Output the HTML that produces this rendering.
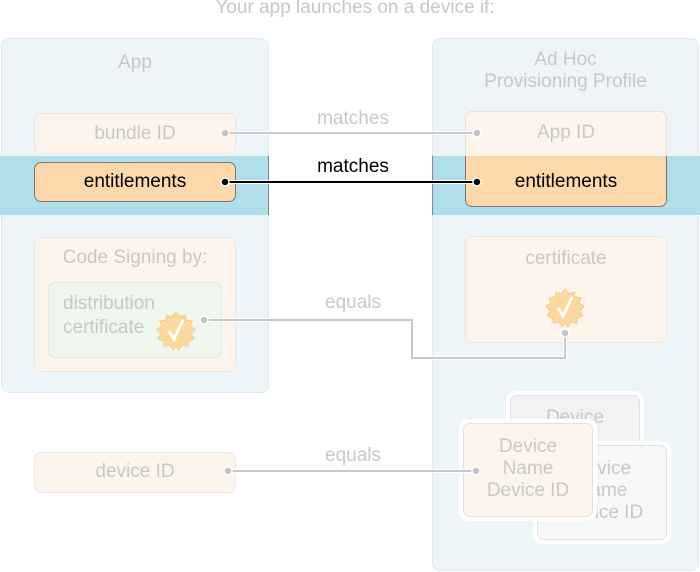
<!DOCTYPE html>
<html><head><meta charset="utf-8"><style>
body{margin:0;width:700px;height:572px;background:#fff;position:relative;overflow:hidden;font-family:"Liberation Sans",sans-serif;}
.a{position:absolute;box-sizing:border-box;}
.t{position:absolute;text-align:center;color:#c8c8c8;font-size:19px;line-height:21px;}
.panel{background:#edf5f8;border:1px solid #dfe9ee;border-radius:8px;}
.box{background:#fdf5ec;border:1px solid #ebe6e0;border-radius:7px;}
</style></head><body>
<div class="t" style="left:0;width:710px;top:-3px;">Your app launches on a device if:</div>

<div class="a panel" style="left:1px;top:38px;width:268px;height:355px;"></div>
<div class="a panel" style="left:432px;top:38px;width:267px;height:533px;"></div>

<div class="a" style="left:0;top:155px;width:269px;height:60px;background:#b0dfeb;border-top:1px solid #e8f4f8;border-right:1px solid #888;"></div>
<div class="a" style="left:432px;top:155px;width:268px;height:60px;background:#b0dfeb;border-left:1px solid #888;border-top:1px solid #e8f4f8;"></div>

<div class="t" style="left:1px;width:268px;top:52px;">App</div>
<div class="t" style="left:432px;width:267px;top:49px;line-height:22px;">Ad Hoc<br>Provisioning Profile</div>

<div class="a box" style="left:34px;top:113px;width:202px;height:41px;"></div>
<div class="t" style="left:34px;width:202px;top:123px;">bundle ID</div>
<div class="a" style="left:34px;top:162px;width:202px;height:40px;background:#fdd8ab;border:1px solid #777;border-radius:7px;"></div>
<div class="t" style="left:34px;width:202px;top:171px;color:#000;">entitlements</div>

<div class="a box" style="left:465px;top:111px;width:202px;height:96px;border-color:#e6e0da;"></div>
<div class="a" style="left:465px;top:156px;width:202px;height:51px;background:#fdd8ab;border:1px solid #777;border-top:none;border-radius:0 0 7px 7px;"></div>
<div class="t" style="left:465px;width:202px;top:122px;">App ID</div>
<div class="t" style="left:465px;width:202px;top:171px;color:#000;">entitlements</div>

<div class="a box" style="left:34px;top:237px;width:202px;height:135px;"></div>
<div class="t" style="left:34px;width:202px;top:247px;">Code Signing by:</div>
<div class="a" style="left:48px;top:282px;width:174px;height:76px;background:#eef6ee;border:1px solid #e0e8e0;border-radius:7px;"></div>
<div class="t" style="left:63px;top:292px;text-align:left;line-height:24px;">distribution<br>certificate</div>

<div class="a box" style="left:465px;top:236px;width:202px;height:107px;"></div>
<div class="t" style="left:465px;width:202px;top:248px;">certificate</div>

<div class="a box" style="left:34px;top:452px;width:202px;height:41px;"></div>
<div class="t" style="left:34px;width:202px;top:461px;">device ID</div>

<div class="a" style="left:506px;top:391px;width:138px;height:64px;background:#fff;border-radius:10px;"></div>
<div class="a" style="left:510px;top:395px;width:130px;height:56px;background:#f2f2f2;border:1px solid #e2e2e2;border-radius:7px;"></div>
<div class="t" style="left:510px;width:130px;top:407px;">Device</div>
<div class="a" style="left:533px;top:441px;width:138px;height:103px;background:#fff;border-radius:10px;"></div>
<div class="a" style="left:537px;top:445px;width:130px;height:95px;background:#f8f8f8;border:1px solid #e2e2e2;border-radius:7px;"></div>
<div class="t" style="left:537px;width:130px;top:458px;line-height:22px;">Device<br>Name<br>Device ID</div>
<div class="a" style="left:459px;top:419px;width:138px;height:102px;background:#fff;border-radius:10px;"></div>
<div class="a" style="left:463px;top:423px;width:130px;height:94px;background:#fdf5ec;border:1px solid #e6e0da;border-radius:7px;"></div>
<div class="t" style="left:463px;width:130px;top:436px;line-height:22px;">Device<br>Name<br>Device ID</div>

<svg class="a" style="left:0;top:0" width="700" height="572">
<defs><g id="badge">
<polygon points="0,-19 4,-14 9,-16 10,-11 16,-10 14,-5 19,-2 15,3 18,8 12,10 12,15 6,14 3,19 0,15 -3,19 -6,14 -12,15 -12,10 -18,8 -15,3 -19,-2 -14,-5 -16,-10 -10,-11 -9,-16 -4,-14" fill="#fbd9a0" stroke="#f8c98a" stroke-width="1"/>
<path d="M-7,0 L-2,8 L7,-11" fill="none" stroke="#fff" stroke-width="3"/>
</g></defs>
<use href="#badge" x="176" y="331"/>
<use href="#badge" x="565" y="308"/>
<g fill="none" stroke-width="2">
<path d="M225,133 H477" stroke="#fff" stroke-width="4"/><path d="M225,133 H477" stroke="#ccc"/>
<path d="M225,182 H477" stroke="#fff" stroke-width="4"/><path d="M225,182 H477" stroke="#000"/>
<path d="M204,320 H412 V358 H565 V335" stroke="#fff" stroke-width="4"/><path d="M204,320 H412 V358 H565 V335" stroke="#c8c8c8"/>
<path d="M228,471 H476" stroke="#fff" stroke-width="4"/><path d="M228,471 H476" stroke="#c8c8c8"/>
</g>
<g fill="#c4c4c4" stroke="#fff" stroke-width="1.5">
<circle cx="225" cy="133" r="4"/><circle cx="477" cy="133" r="4"/>
<circle cx="204" cy="320" r="4"/><circle cx="565" cy="333" r="4"/>
<circle cx="228" cy="471" r="4"/><circle cx="476" cy="471" r="4"/>
</g>
<g fill="#000" stroke="#fff" stroke-width="1.5"><circle cx="225" cy="182" r="4"/><circle cx="477" cy="182" r="4"/></g>
</svg>
<div class="t" style="left:253px;width:200px;top:108px;">matches</div>
<div class="t" style="left:253px;width:200px;top:156px;color:#000;">matches</div>
<div class="t" style="left:253px;width:200px;top:292px;">equals</div>
<div class="t" style="left:253px;width:200px;top:445px;">equals</div>
</body></html>
